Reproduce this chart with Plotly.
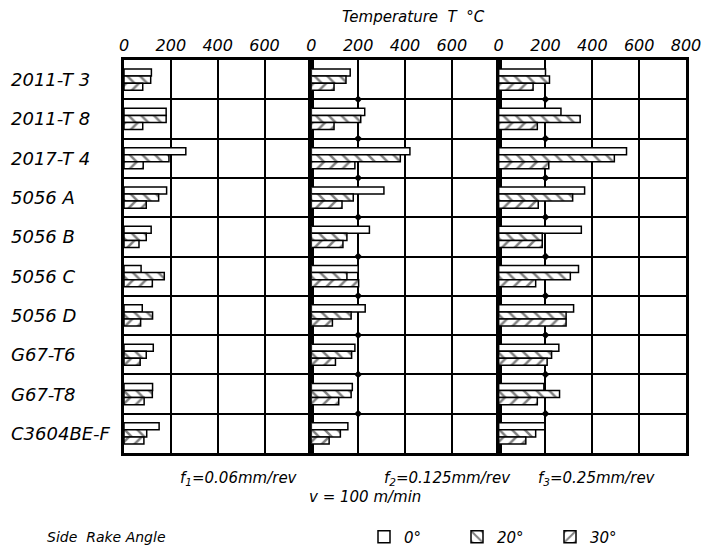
import plotly.graph_objects as go
from plotly.subplots import make_subplots

# Work materials, top to bottom
materials = ["2011-T 3", "2011-T 8", "2017-T 4", "5056 A", "5056 B",
             "5056 C", "5056 D", "G67-T6", "G67-T8", "C3604BE-F"]

# Cutting temperature (°C) for each feed rate and side rake angle
f1_rake0 = [117, 180, 264, 182, 116, 73, 78, 125, 122, 150]
f1_rake20 = [114, 180, 192, 148, 95, 172, 122, 95, 121, 97]
f1_rake30 = [80, 80, 82, 95, 64, 121, 71, 69, 86, 85]

f2_rake0 = [166, 228, 421, 310, 248, 200, 230, 186, 175, 156]
f2_rake20 = [148, 211, 380, 179, 152, 152, 170, 172, 170, 124]
f2_rake30 = [97, 97, 186, 131, 135, 202, 90, 103, 117, 76]

f3_rake0 = [200, 266, 546, 367, 353, 341, 320, 257, 193, 197]
f3_rake20 = [217, 348, 494, 316, 186, 306, 288, 226, 260, 158]
f3_rake30 = [147, 165, 214, 169, 186, 158, 288, 207, 165, 116]

# Reference level (°C) marked on the row boundaries of the f2 and f3 panels
ref_level = 200

rake_names = ["0°", "20°", "30°"]
rake_patterns = ["", "\\", "/"]
panels = [
    [f1_rake0, f1_rake20, f1_rake30],
    [f2_rake0, f2_rake20, f2_rake30],
    [f3_rake0, f3_rake20, f3_rake30],
]
feed_labels = ["f<sub>1</sub>=0.06mm/rev", "f<sub>2</sub>=0.125mm/rev",
               "f<sub>3</sub>=0.25mm/rev"]
top_ticks = [[0, 200, 400, 600], [0, 200, 400, 600], [0, 200, 400, 600, 800]]

FONT = "DejaVu Sans"
W, H = 710, 551
L, R, T, B = 124, 24, 60, 98
PW, PH = W - L - R, H - T - B

fig = make_subplots(rows=1, cols=3, shared_yaxes=True, horizontal_spacing=0)

rows = list(range(len(materials)))
boundaries = [i + 0.5 for i in rows[:-1]]

for p, series in enumerate(panels):
    for k, vals in enumerate(series):
        fig.add_trace(
            go.Bar(
                x=vals, y=rows, orientation="h",
                name=rake_names[k], legendgroup=rake_names[k],
                showlegend=(p == 0),
                marker=dict(
                    color="white",
                    line=dict(color="black", width=1.5),
                    pattern=dict(shape=rake_patterns[k], fgcolor="black",
                                 bgcolor="white", size=9, solidity=0.28),
                ),
            ),
            row=1, col=p + 1,
        )

for p in (1, 2):
    fig.add_trace(
        go.Scatter(
            x=[ref_level] * len(boundaries), y=boundaries, mode="markers",
            marker=dict(symbol="diamond", size=6, color="black"),
            showlegend=False, hoverinfo="skip",
        ),
        row=1, col=p + 1,
    )

for p in range(3):
    fig.update_xaxes(
        row=1, col=p + 1,
        range=[0, 800], side="top",
        tickvals=top_ticks[p], ticktext=[str(v) for v in top_ticks[p]],
        ticks="", showgrid=True, dtick=200, gridcolor="black", gridwidth=2,
        showline=True, mirror=True, linecolor="black", linewidth=3,
        zeroline=False,
        tickfont=dict(family=FONT, size=16, color="black", style="italic"),
    )

fig.update_yaxes(
    range=[len(materials) - 0.5, -0.5],
    tickvals=boundaries, showticklabels=False, ticks="",
    showgrid=True, gridcolor="black", gridwidth=2,
    showline=True, mirror=True, linecolor="black", linewidth=3,
    zeroline=False,
)

annotations = []
# Material names along the left
for i, m in enumerate(materials):
    annotations.append(dict(
        text=m, xref="paper", yref="y", x=(9 - L) / PW, y=i,
        xanchor="left", yanchor="middle", showarrow=False,
        font=dict(family=FONT, size=18, color="black", style="italic"),
    ))


def px_x(x):
    return (x - L) / PW


def px_y(y):
    return 1 - (y - T) / PH


annotations.append(dict(
    text="Temperature  T  °C", xref="paper", yref="paper",
    x=px_x(413), y=px_y(17), xanchor="center", yanchor="middle",
    showarrow=False,
    font=dict(family=FONT, size=15, color="black", style="italic"),
))
for cx, lab in zip([239, 447, 597], feed_labels):
    annotations.append(dict(
        text=lab, xref="paper", yref="paper", x=px_x(cx), y=px_y(478),
        xanchor="center", yanchor="middle", showarrow=False,
        font=dict(family=FONT, size=15, color="black", style="italic"),
    ))
annotations.append(dict(
    text="v = 100 m/min", xref="paper", yref="paper", x=px_x(365), y=px_y(497),
    xanchor="center", yanchor="middle", showarrow=False,
    font=dict(family=FONT, size=15, color="black", style="italic"),
))
annotations.append(dict(
    text="Side  Rake Angle", xref="paper", yref="paper", x=px_x(45), y=px_y(537),
    xanchor="left", yanchor="middle", showarrow=False,
    font=dict(family=FONT, size=14, color="black", style="italic"),
))

fig.update_layout(
    width=W, height=H,
    margin=dict(l=L, r=R, t=T, b=B, autoexpand=False),
    paper_bgcolor="white", plot_bgcolor="white",
    barmode="group", bargap=0.46, bargroupgap=0,
    annotations=annotations,
    legend=dict(
        orientation="h", x=px_x(364), y=px_y(537),
        xanchor="left", yanchor="middle",
        entrywidth=48, entrywidthmode="pixels",
        font=dict(family=FONT, size=15, color="black", style="italic"),
        bgcolor="rgba(0,0,0,0)", traceorder="normal",
    ),
)

fig.write_html("out.html")
